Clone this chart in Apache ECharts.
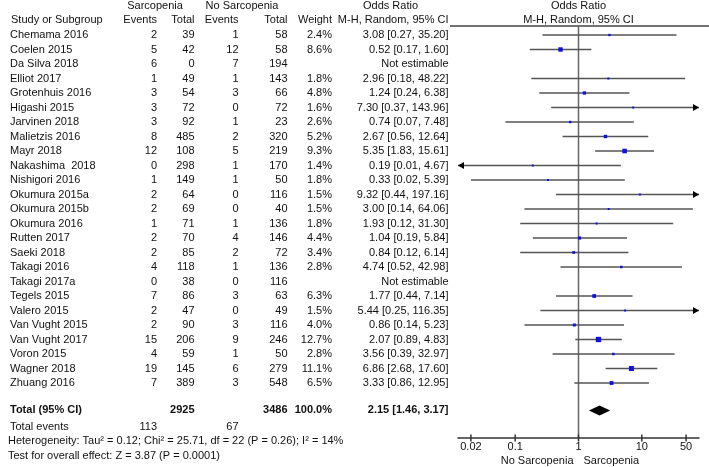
<!DOCTYPE html>
<html><head><meta charset="utf-8">
<script src="https://cdn.jsdelivr.net/npm/echarts@6/dist/echarts.min.js"></script>
<style>html,body{margin:0;padding:0;background:#fff}#c{width:709px;height:467px}</style>
</head><body><div id="c"></div>
<script>
// ---------- data ----------
const studies = ['Chemama 2016','Coelen 2015','Da Silva 2018','Elliot 2017','Grotenhuis 2016','Higashi 2015','Jarvinen 2018','Malietzis 2016','Mayr 2018','Nakashima  2018','Nishigori 2016','Okumura 2015a','Okumura 2015b','Okumura 2016','Rutten 2017','Saeki 2018','Takagi 2016','Takagi 2017a','Tegels 2015','Valero 2015','Van Vught 2015','Van Vught 2017','Voron 2015','Wagner 2018','Zhuang 2016'];
const sarcEvents = [2,5,6,1,3,3,3,8,12,0,1,2,2,1,2,2,4,0,7,2,2,15,4,19,7];
const sarcTotal = [39,42,0,49,54,72,92,485,108,298,149,64,69,71,70,85,118,38,86,47,90,206,59,145,389];
const noEvents = [1,12,7,1,3,0,1,2,5,1,1,0,0,1,4,2,1,0,3,0,3,9,1,6,3];
const noTotal = [58,58,194,143,66,72,23,320,219,170,50,116,40,136,146,72,136,116,63,49,116,246,50,279,548];
const weights = [2.4,8.6,null,1.8,4.8,1.6,2.6,5.2,9.3,1.4,1.8,1.5,1.5,1.8,4.4,3.4,2.8,null,6.3,1.5,4.0,12.7,2.8,11.1,6.5];
const oddsRatio = [3.08,0.52,null,2.96,1.24,7.30,0.74,2.67,5.35,0.19,0.33,9.32,3.00,1.93,1.04,0.84,4.74,null,1.77,5.44,0.86,2.07,3.56,6.86,3.33];
const ciLow = [0.27,0.17,null,0.18,0.24,0.37,0.07,0.56,1.83,0.01,0.02,0.44,0.14,0.12,0.19,0.12,0.52,null,0.44,0.25,0.14,0.89,0.39,2.68,0.86];
const ciHigh = [35.20,1.60,null,48.22,6.38,143.96,7.48,12.64,15.61,4.67,5.39,197.16,64.06,31.30,5.84,6.14,42.98,null,7.14,116.35,5.23,4.83,32.97,17.60,12.95];
const totalSarc = 2925, totalNo = 3486, totalWeight = '100.0%';
const pooled = [2.15, 1.46, 3.17];
const totalEventsSarc = 113, totalEventsNo = 67;
const tickValues = [0.02, 0.1, 1, 10, 50];
const tickLabels = ['0.02','0.1','1','10','50'];
const axisMin = 0.0125, axisMax = 80;
const heterogeneityText = 'Heterogeneity: Tau\u00b2 = 0.12; Chi\u00b2 = 25.71, df = 22 (P = 0.26); I\u00b2 = 14%';
const overallText = 'Test for overall effect: Z = 3.87 (P = 0.0001)';

// ---------- layout ----------
const FONT = '"Liberation Sans", Arial, sans-serif';
const W = 709, H = 467, ROW_H = 14.5, FIRST_Y = 35;
const FOREST_TOP = 26, AXIS_Y = 438, FOREST_L = 458, FOREST_R = 699;
const rowOf = py => (py - FIRST_Y) / ROW_H;
const fmt2 = v => v.toFixed(2);
const ciText = i => oddsRatio[i] == null ? 'Not estimable' : fmt2(oddsRatio[i]) + ' [' + fmt2(ciLow[i]) + ', ' + fmt2(ciHigh[i]) + ']';

const COL = {name:10, sE:157, sT:194.5, nE:238.5, nT:287.5, w:332, or:448.5};
const cells = [];
function cell(x, py, text, align, bold){ cells.push({x, row: rowOf(py), text: String(text), align, bold}); }
// headers
cell(155, 6, 'Sarcopenia', 'center');
cell(242, 6, 'No Sarcopenia', 'center');
cell(390.5, 6, 'Odds Ratio', 'center');
cell(578.5, 6, 'Odds Ratio', 'center');
cell(11, 20, 'Study or Subgroup', 'left');
cell(COL.sE, 20, 'Events', 'right');
cell(COL.sT, 20, 'Total', 'right');
cell(COL.nE, 20, 'Events', 'right');
cell(COL.nT, 20, 'Total', 'right');
cell(COL.w, 20, 'Weight', 'right');
cell(COL.or, 20, 'M-H, Random, 95% CI', 'right');
cell(578.5, 20, 'M-H, Random, 95% CI', 'center');
// rows
studies.forEach((s, i) => {
  const py = FIRST_Y + i * ROW_H;
  cell(COL.name, py, s, 'left');
  cell(COL.sE, py, sarcEvents[i], 'right');
  cell(COL.sT, py, sarcTotal[i], 'right');
  cell(COL.nE, py, noEvents[i], 'right');
  cell(COL.nT, py, noTotal[i], 'right');
  if (weights[i] != null) cell(COL.w, py, weights[i].toFixed(1) + '%', 'right');
  cell(COL.or, py, ciText(i), 'right');
});
// totals
cell(COL.name, 410, 'Total (95% CI)', 'left', true);
cell(COL.sT, 410, totalSarc, 'right', true);
cell(COL.nT, 410, totalNo, 'right', true);
cell(COL.w, 410, totalWeight, 'right', true);
cell(COL.or, 410, fmt2(pooled[0]) + ' [' + fmt2(pooled[1]) + ', ' + fmt2(pooled[2]) + ']', 'right', true);
cell(COL.name, 426.5, 'Total events', 'left');
cell(COL.sE, 426.5, totalEventsSarc, 'right');
cell(COL.nE, 426.5, totalEventsNo, 'right');
cell(8, 441, heterogeneityText, 'left');
cell(8, 455.5, overallText, 'left');
cell(573.5, 461, 'No Sarcopenia', 'right');
cell(583.5, 461, 'Sarcopenia', 'left');

const Y_MIN = rowOf(FOREST_TOP), Y_MAX = rowOf(AXIS_Y);
const TOTAL_ROW = rowOf(410.5);

const LINE_C = '#555', TXT_C = '#111';
const forestData = [];
studies.forEach((s, i) => { if (oddsRatio[i] != null) forestData.push([oddsRatio[i], i, ciLow[i], ciHigh[i], weights[i]]); });

const chart = echarts.init(document.getElementById('c'));
chart.setOption({
  animation: false,
  backgroundColor: '#fff',
  grid: [
    {left: 0, right: 0, top: 0, bottom: 0},
    {left: FOREST_L, right: W - FOREST_R, top: FOREST_TOP, bottom: H - AXIS_Y}
  ],
  xAxis: [
    {gridIndex: 0, type: 'value', min: 0, max: W, show: false},
    {gridIndex: 1, type: 'log', logBase: 10, min: axisMin, max: axisMax, position: 'bottom',
     axisLine: {show: true, onZero: false, lineStyle: {color: '#333', width: 1.5}},
     axisTick: {show: false}, axisLabel: {show: false}, splitLine: {show: false}}
  ],
  yAxis: [
    {gridIndex: 0, type: 'value', inverse: true, min: rowOf(0), max: rowOf(H), show: false},
    {gridIndex: 1, type: 'value', inverse: true, min: Y_MIN, max: Y_MAX, show: false}
  ],
  graphic: [{type: 'line', shape: {x1: 450, y1: FOREST_TOP, x2: W, y2: FOREST_TOP}, style: {stroke: '#444', lineWidth: 1.5}, silent: true}],
  series: [
    { // table text
      type: 'custom', xAxisIndex: 0, yAxisIndex: 0, clip: false, silent: true,
      data: cells.map(c => [c.x, c.row]),
      renderItem: (params, api) => {
        const c = cells[params.dataIndex];
        const p = api.coord([c.x, c.row]);
        return {type: 'text', x: p[0], y: p[1], style: {text: c.text, align: c.align, verticalAlign: 'middle',
          font: (c.bold ? 'bold ' : '') + '11px ' + FONT, fill: TXT_C}};
      }
    },
    { // line of no effect
      type: 'custom', xAxisIndex: 1, yAxisIndex: 1, clip: false, silent: true, z: 1,
      data: [[1, Y_MIN]],
      renderItem: (params, api) => {
        const a = api.coord([api.value(0), Y_MIN]), b = api.coord([api.value(0), Y_MAX]);
        return {type: 'line', shape: {x1: a[0], y1: a[1], x2: b[0], y2: b[1]}, style: {stroke: '#666', lineWidth: 1.5}};
      }
    },
    { // study CIs and squares
      type: 'custom', xAxisIndex: 1, yAxisIndex: 1, clip: false, silent: true, z: 3,
      data: forestData,
      renderItem: (params, api) => {
        const row = api.value(1);
        const pe = api.coord([api.value(0), row]);
        const pl = api.coord([api.value(2), row]);
        const ph = api.coord([api.value(3), row]);
        const xmin = api.coord([axisMin, row])[0], xmax = api.coord([axisMax, row])[0];
        const y = pe[1];
        const x1 = Math.max(pl[0], xmin), x2 = Math.min(ph[0], xmax);
        const ch = [{type: 'line', shape: {x1, y1: y, x2, y2: y}, style: {stroke: LINE_C, lineWidth: 1.5}}];
        if (pl[0] < xmin) ch.push({type: 'polygon', shape: {points: [[xmin, y], [xmin + 6, y - 3.5], [xmin + 6, y + 3.5]]}, style: {fill: '#000'}});
        if (ph[0] > xmax) ch.push({type: 'polygon', shape: {points: [[xmax, y], [xmax - 6, y - 3.5], [xmax - 6, y + 3.5]]}, style: {fill: '#000'}});
        const s = Math.max(2, 1.5 * Math.sqrt(api.value(4)));
        ch.push({type: 'rect', shape: {x: pe[0] - s / 2, y: y - s / 2, width: s, height: s}, style: {fill: '#1010e0'}});
        return {type: 'group', children: ch};
      }
    },
    { // pooled diamond
      type: 'custom', xAxisIndex: 1, yAxisIndex: 1, clip: false, silent: true, z: 3,
      data: [[pooled[0], TOTAL_ROW, pooled[1], pooled[2]]],
      renderItem: (params, api) => {
        const c = api.coord([api.value(0), api.value(1)]);
        const l = api.coord([api.value(2), api.value(1)]);
        const r = api.coord([api.value(3), api.value(1)]);
        return {type: 'polygon', shape: {points: [[l[0], c[1]], [c[0], c[1] - 5], [r[0], c[1]], [c[0], c[1] + 5]]}, style: {fill: '#000'}};
      }
    },
    { // axis ticks and labels
      type: 'custom', xAxisIndex: 1, yAxisIndex: 1, clip: false, silent: true, z: 4,
      data: tickValues.map(v => [v, Y_MAX]),
      renderItem: (params, api) => {
        const p = api.coord([api.value(0), api.value(1)]);
        return {type: 'group', children: [
          {type: 'line', shape: {x1: p[0], y1: p[1] - 3.5, x2: p[0], y2: p[1] + 3.5}, style: {stroke: '#333', lineWidth: 1.5}},
          {type: 'text', x: p[0], y: p[1] + 9, style: {text: tickLabels[params.dataIndex], align: 'center', verticalAlign: 'middle', font: '11px ' + FONT, fill: TXT_C}}
        ]};
      }
    }
  ]
});
</script></body></html>
